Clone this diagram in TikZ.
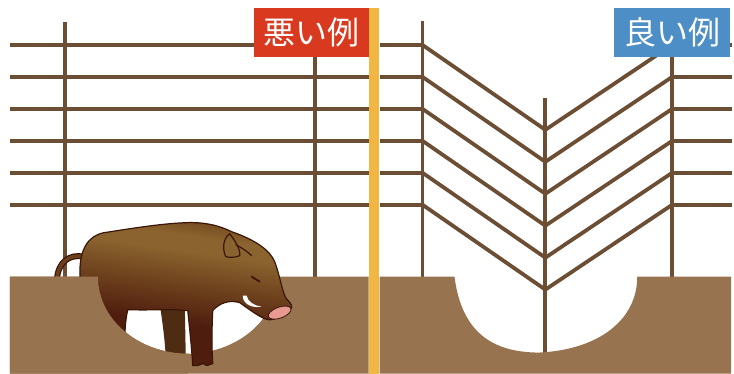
\documentclass[tikz,border=0pt]{standalone}
\usepackage{fontspec}
\newfontfamily\jpfont{Noto Sans CJK JP}

\definecolor{fence}{HTML}{6C4E35}
\definecolor{soil}{HTML}{98734F}
\definecolor{badred}{HTML}{D9391F}
\definecolor{goodblue}{HTML}{4D8EC6}
\definecolor{divider}{HTML}{F0B843}
\definecolor{boarline}{HTML}{3A1608}
\definecolor{boardark}{HTML}{4F1D0E}
\definecolor{boarmid}{HTML}{6C3F1C}
\definecolor{boarlight}{HTML}{8A632E}
\definecolor{boartop}{HTML}{72491F}
\definecolor{hindleg}{HTML}{4E2C12}
\definecolor{snout}{HTML}{E99A90}

\pgfdeclareverticalshading{boarfur}{100bp}{color(0bp)=(boardark); color(40bp)=(boardark); color(52bp)=(boarmid); color(64bp)=(boarlight); color(69bp)=(boarlight); color(75bp)=(boartop); color(100bp)=(boartop)}

\tikzset{
  rail/.style={fence, line width=3.8pt},
  tag/.style={text=white, inner sep=0pt, minimum height=49pt, font=\jpfont\fontsize{32}{32}\selectfont},
  fur/.style={draw=boarline, line width=1.2pt, shading=boarfur, shading angle=-8},
}

\begin{document}
\begin{tikzpicture}[x=1pt, y=-1pt]
\fill[white] (0,0) rectangle (734,374);

% left fence
\foreach \y in {45,77,109,141,173,205}
       \draw[rail] (10,\y) -- (369,\y);
\foreach \x in {65,315}
       \draw[rail] (\x,22) -- (\x,277);

% tail
\draw[boarline, line width=6pt] (84,257) .. controls (70,254) and (58,262) .. (57,280);
\draw[boarmid, line width=3.5pt] (84,257) .. controls (70,254) and (58,262) .. (57,280);

% ground with the dug hole
\fill[soil] (10,277) -- (98,277) .. controls (98,319.5) and (138.3,354) .. (188,354)
      .. controls (237.7,354) and (278,319.5) .. (278,277) -- (369,277) -- (369,374) -- (10,374) -- cycle;

% boar
\fill[hindleg] (160,305) .. controls (163,325) and (165,340) .. (166,358) -- (186,358) -- (185,305) -- cycle;
\path[fur] (80,272) .. controls (80,250) and (88,236) .. (104,233)
  .. controls (130,229) and (160,224) .. (185,223)
  .. controls (205,222) and (220,226) .. (232,232)
  .. controls (255,240) and (270,250) .. (275,262)
  .. controls (280,275) and (282,290) .. (286,298)
  .. controls (289,302) and (293,305) .. (292,308)
  .. controls (285,316) and (275,321) .. (268,320)
  .. controls (260,318) and (250,310) .. (240,303)
  .. controls (230,300) and (220,303) .. (213,311)
  .. controls (212,330) and (212,350) .. (213,364)
  -- (207,366) -- (203,364) -- (198,366) -- (193,366)
  .. controls (192,350) and (190,330) .. (188,311)
  .. controls (170,309) and (150,311) .. (128,310)
  .. controls (126,318) and (125,328) .. (125,340)
  -- (80,340) -- cycle;
\fill[soil] (10,277) -- (98,277) .. controls (98,319.5) and (138.3,354) .. (188,354)
      -- (188,374) -- (10,374) -- cycle;

% face
\draw[boarline, line width=1.2pt] (226,257) .. controls (222,248) and (224,238) .. (230,234)
      .. controls (236,242) and (241,250) .. (240,256) .. controls (235,258) and (230,258) .. (226,257);
\draw[boarline, line width=1.2pt] (236,245) .. controls (242,248) and (248,252) .. (252,256);
\draw[boarline, line width=1.8pt, line cap=round] (252,277) -- (260,282);
\fill[white] (243,296) .. controls (243,304) and (252,309) .. (262,307)
      .. controls (254,306) and (248,302) .. (247,296) -- cycle;
\filldraw[fill=snout, draw=boarline, line width=0.8pt, rotate around={20:(280,313)}] (280,313) ellipse [x radius=12, y radius=5.5];

% right fence
\draw[rail] (546,98) -- (546,353);
\foreach \x in {423,673}
       \draw[rail] (\x,21) -- (\x,277);
\foreach \y in {45,77,109,141,173,205} {
       \draw[rail] (380,\y) -- (423,\y);
       \draw[rail] (673,\y) -- (733,\y);
       \draw[rail] (423,\y) -- (546,\y+85) -- (673,\y);
}

\fill[soil] (380,277) -- (455,277) .. controls (462,330) and (490,353) .. (540,353)
      .. controls (600,350) and (638,320) .. (638,277) -- (732,277) -- (732,374) -- (380,374) -- cycle;

% divider and labels
\fill[divider] (369,8) rectangle (379,374);
\node[tag, fill=badred, minimum width=115pt] (bad) at (311.5,32.5) {悪い例};
\node[tag, fill=goodblue, minimum width=116pt] (good) at (673,32.5) {良い例};

\end{tikzpicture}
\end{document}
